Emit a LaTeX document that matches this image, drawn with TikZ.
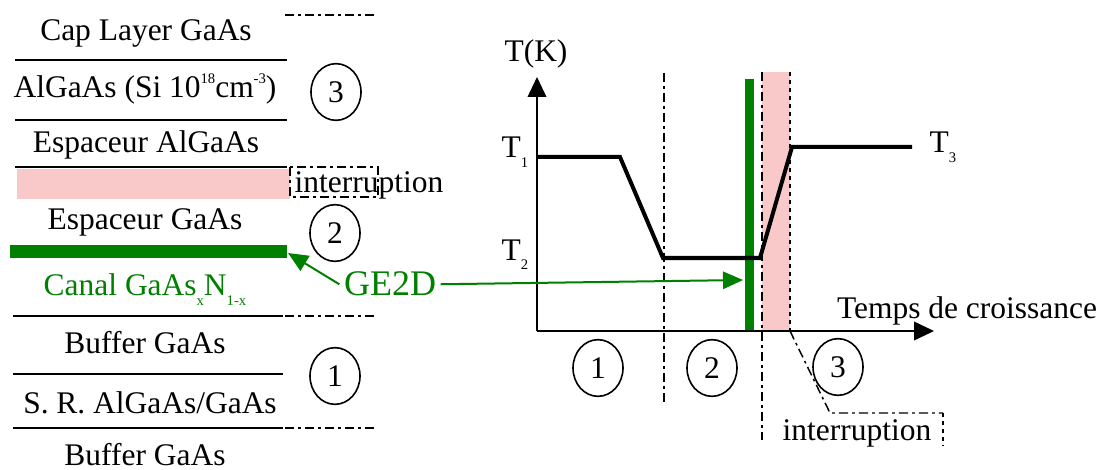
\documentclass[tikz,border=0pt]{standalone}
\usepackage{fontspec}
\setmainfont{Liberation Serif}
\definecolor{GEgreen}{HTML}{008000}
\definecolor{INTpink}{HTML}{F9C9C9}
\usetikzlibrary{arrows.meta,shapes.geometric}
\newcommand{\sbs}[1]{\raisebox{-7pt}{\fontsize{11}{11}\selectfont #1}}
\newcommand{\sps}[1]{\raisebox{11pt}{\fontsize{11}{11}\selectfont #1}}
\tikzset{
  layer/.style={anchor=base},
  sep/.style={line width=1.5pt},
  dashdot/.style={line width=1.1pt,dash pattern=on 7pt off 3pt on 2pt off 3pt},
  etape/.style={draw,ellipse,line width=1.2pt,minimum width=37.5pt,minimum height=42.5pt,inner sep=0pt},
  gearrow/.style={GEgreen,line width=1.5pt,-{Triangle[length=15pt,width=13pt]}},
  axis/.style={line width=1.3pt,-{Triangle[length=15pt,width=14pt]}},
}

\begin{document}
\begin{tikzpicture}[x=0.75pt,y=-0.75pt,font=\fontsize{23.6}{28}\selectfont]
  \useasboundingbox (0,0) rectangle (1102,470);
  % empilement
  \fill[INTpink] (17,169) rectangle (290,199);
  \fill[GEgreen] (10,245) rectangle (287,258);
  \coordinate (chan) at (288,253);
  \foreach \y in {60,120,167} \draw[sep] (15,\y) -- (287,\y);
  \foreach \y in {316,374,428} \draw[sep] (13,\y) -- (283,\y);
  \foreach \y in {15,316,428} \draw[dashdot] (285,\y) -- (378,\y);
  \draw[dashdot] (290,167) rectangle (378,197);
  \node[layer] (cap) at (146,41) {Cap Layer GaAs};
  \node[layer] (dope) at (145,98) {AlGaAs (Si 10\sps{18}cm\sps{-3})};
  \node[layer] (espA) at (146,153) {Espaceur AlGaAs};
  \node[layer] (intA) at (369,193) {interruption};
  \node[layer] (espG) at (145,229) {Espaceur GaAs};
  \node[layer,text=GEgreen] (canal) at (145,296) {Canal GaAs\sbs{x}N\sbs{1-x}};
  \node[layer] (bufB) at (145,353) {Buffer GaAs};
  \node[layer] (sr) at (150,413) {S. R. AlGaAs/GaAs};
  \node[layer] (bufA) at (145,465) {Buffer GaAs};
  \node[etape] (c3) at (336,92) {3};
  \node[etape] (c2) at (335,233) {2};
  \node[etape] (c1) at (335,376) {1};
  % courbe de temperature
  \coordinate (O) at (537,331);
  \fill[INTpink] (762,72) rectangle (790,331);
  \fill[GEgreen] (745,79) rectangle (754,331);
  \coordinate (bar) at (743,280);
  \draw[dashdot] (664,73) -- (664,405);
  \draw[dashdot] (762,72) -- (762,440);
  \draw[line width=1.1pt,dashed] (790,72) -- (790,331);
  \coordinate (br1) at (830,413);
  \coordinate (br2) at (943,413);
  \draw[dashdot] (790,331) -- (br1) -- (br2);
  \draw[line width=1.1pt,dashed] (br2) -- (943,446);
  \draw[axis] (O) -- (537,77);
  \draw[axis] (O) -- (934,331);
  \draw[line width=3pt] (537,157) -- (620,157) -- (663,258) -- (760,258) -- (792,147) -- (912,147);
  \node[layer] (tk) at (536,62) {T(K)};
  \node[layer] (t1) at (515,158) {T\sbs{1}};
  \node[layer] (t2) at (515,260) {T\sbs{2}};
  \node[layer] (t3) at (943,153) {T\sbs{3}};
  \node[layer] (temps) at (967,318) {Temps de croissance};
  \node[layer] (intB) at (857,440) {interruption};
  \node[etape] (p1) at (598,368) {1};
  \node[etape] (p2) at (712,368) {2};
  \node[etape] (p3) at (838,367) {3};
  % GE2D
  \node[layer,text=GEgreen,font=\fontsize{27}{30}\selectfont] (ge) at (390,296) {GE2D};
  \draw[gearrow] (ge.west) -- (chan);
  \draw[gearrow] (ge.east) -- (bar);
\end{tikzpicture}
\end{document}
